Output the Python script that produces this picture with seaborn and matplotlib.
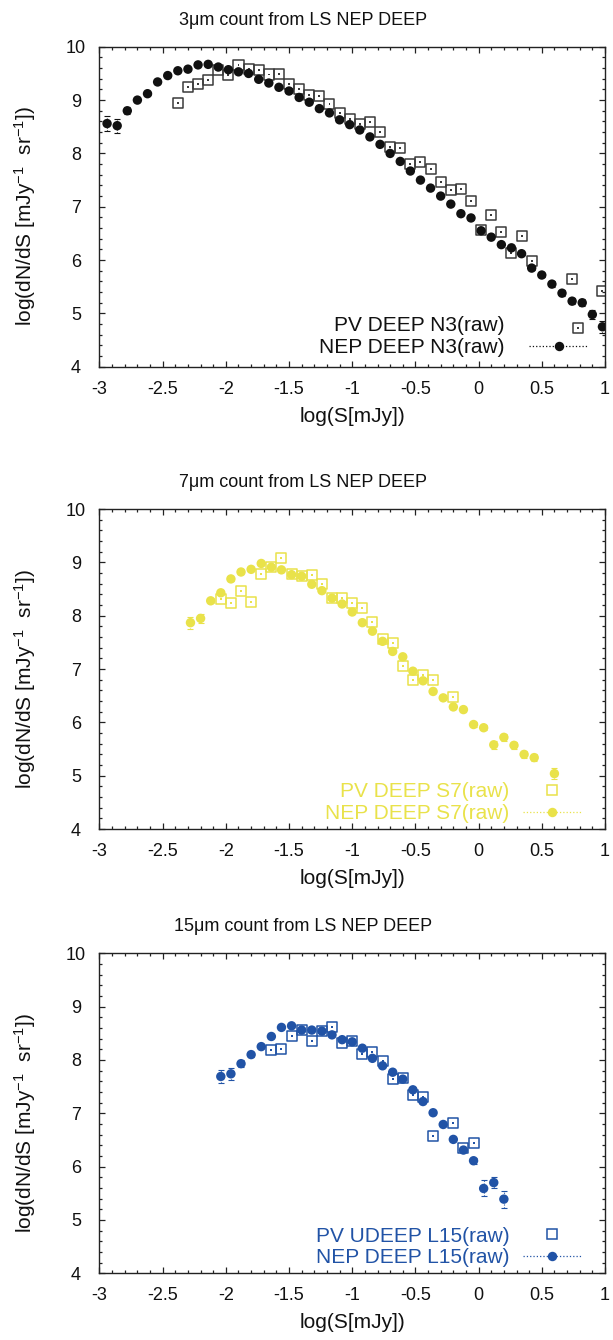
import matplotlib
matplotlib.use("Agg")
import matplotlib.pyplot as plt
from matplotlib.lines import Line2D
from matplotlib.ticker import MultipleLocator, FuncFormatter
import seaborn as sns

sns.set_theme(style="ticks")
plt.rcParams['font.family'] = ['Liberation Sans', 'DejaVu Sans']
plt.rcParams['mathtext.fontset'] = 'custom'
plt.rcParams['mathtext.rm'] = 'Liberation Sans'
plt.rcParams['mathtext.it'] = 'Liberation Sans:italic'
plt.rcParams['axes.unicode_minus'] = False

# --- 3um (N3) ---
nep3_x = [-2.94, -2.86, -2.78, -2.70, -2.62, -2.54, -2.46, -2.38, -2.30, -2.22,
          -2.14, -2.06, -1.98, -1.90, -1.82, -1.74, -1.66, -1.58, -1.50, -1.42,
          -1.34, -1.26, -1.18, -1.10, -1.02, -0.94, -0.86, -0.78, -0.70, -0.62,
          -0.54, -0.46, -0.38, -0.30, -0.22, -0.14, -0.06, 0.02, 0.10, 0.18,
          0.26, 0.34, 0.42, 0.50, 0.58, 0.66, 0.74, 0.82, 0.90, 0.98]
nep3_y = [8.56, 8.52, 8.80, 9.00, 9.12, 9.34, 9.46, 9.55, 9.58, 9.66,
          9.67, 9.62, 9.57, 9.53, 9.50, 9.39, 9.32, 9.24, 9.17, 9.05,
          8.96, 8.84, 8.76, 8.63, 8.54, 8.44, 8.31, 8.17, 8.00, 7.85,
          7.67, 7.50, 7.35, 7.20, 7.05, 6.87, 6.79, 6.55, 6.43, 6.29,
          6.23, 6.12, 5.85, 5.72, 5.55, 5.38, 5.23, 5.20, 4.98, 4.75]
nep3_err = [0.14, 0.13, 0.07, 0.04, 0.03, 0.02, 0.02, 0.02, 0.02, 0.02,
            0.02, 0.02, 0.02, 0.02, 0.02, 0.02, 0.02, 0.02, 0.02, 0.02,
            0.02, 0.02, 0.02, 0.02, 0.02, 0.02, 0.02, 0.02, 0.02, 0.02,
            0.02, 0.02, 0.02, 0.02, 0.02, 0.02, 0.02, 0.03, 0.03, 0.03,
            0.03, 0.03, 0.04, 0.04, 0.05, 0.05, 0.06, 0.07, 0.09, 0.11]
pv3_x = [-2.38, -2.30, -2.22, -2.14, -2.06, -1.98, -1.90, -1.82, -1.74, -1.66,
         -1.58, -1.50, -1.42, -1.34, -1.26, -1.18, -1.10, -1.02, -0.94, -0.86,
         -0.78, -0.70, -0.62, -0.54, -0.46, -0.38, -0.30, -0.22, -0.14, -0.06,
         0.02, 0.10, 0.18, 0.26, 0.34, 0.42, 0.74, 0.79, 0.98]
pv3_y = [8.95, 9.24, 9.31, 9.37, 9.56, 9.47, 9.66, 9.59, 9.57, 9.48,
         9.49, 9.31, 9.20, 9.09, 9.08, 8.92, 8.76, 8.65, 8.56, 8.59,
         8.41, 8.12, 8.11, 7.81, 7.84, 7.71, 7.47, 7.31, 7.34, 7.11,
         6.56, 6.84, 6.52, 6.14, 6.45, 5.99, 5.65, 4.72, 5.42]

# --- 7um (S7) ---
nep7_x = [-2.28, -2.20, -2.12, -2.04, -1.96, -1.88, -1.80, -1.72, -1.64, -1.56,
          -1.48, -1.40, -1.32, -1.24, -1.16, -1.08, -1.00, -0.92, -0.84, -0.76,
          -0.68, -0.60, -0.52, -0.44, -0.36, -0.28, -0.20, -0.12, -0.04, 0.04,
          0.12, 0.20, 0.28, 0.36, 0.44, 0.60]
nep7_y = [7.87, 7.95, 8.28, 8.43, 8.69, 8.82, 8.87, 8.98, 8.91, 8.86,
          8.77, 8.74, 8.59, 8.47, 8.33, 8.22, 8.07, 7.87, 7.71, 7.52,
          7.33, 7.23, 6.96, 6.78, 6.58, 6.46, 6.29, 6.24, 5.96, 5.90,
          5.58, 5.72, 5.57, 5.40, 5.34, 5.04]
nep7_err = [0.11, 0.09, 0.05, 0.04, 0.03, 0.02, 0.02, 0.02, 0.02, 0.02,
            0.02, 0.02, 0.02, 0.02, 0.02, 0.02, 0.02, 0.02, 0.02, 0.02,
            0.02, 0.02, 0.03, 0.03, 0.03, 0.04, 0.04, 0.04, 0.05, 0.05,
            0.07, 0.06, 0.06, 0.07, 0.07, 0.10]
pv7_x = [-2.04, -1.96, -1.88, -1.80, -1.72, -1.64, -1.56, -1.48, -1.40, -1.32,
         -1.24, -1.16, -1.08, -1.00, -0.92, -0.84, -0.76, -0.68, -0.60, -0.52,
         -0.44, -0.36, -0.20]
pv7_y = [8.32, 8.24, 8.47, 8.26, 8.78, 8.92, 9.09, 8.79, 8.75, 8.76,
         8.59, 8.33, 8.33, 8.24, 8.14, 7.89, 7.56, 7.49, 7.05, 6.79,
         6.89, 6.80, 6.47]

# --- 15um (L15) ---
nep15_x = [-2.04, -1.96, -1.88, -1.80, -1.72, -1.64, -1.56, -1.48, -1.40, -1.32,
           -1.24, -1.16, -1.08, -1.00, -0.92, -0.84, -0.76, -0.68, -0.60, -0.52,
           -0.44, -0.36, -0.28, -0.20, -0.12, -0.04, 0.04, 0.12, 0.20]
nep15_y = [7.69, 7.74, 7.93, 8.10, 8.25, 8.44, 8.61, 8.64, 8.56, 8.56,
           8.54, 8.47, 8.38, 8.34, 8.22, 8.03, 7.89, 7.77, 7.64, 7.44,
           7.22, 7.01, 6.79, 6.51, 6.31, 6.11, 5.59, 5.70, 5.39]
nep15_err = [0.13, 0.11, 0.07, 0.05, 0.03, 0.02, 0.02, 0.02, 0.02, 0.02,
             0.02, 0.02, 0.02, 0.02, 0.02, 0.02, 0.02, 0.02, 0.02, 0.02,
             0.02, 0.02, 0.03, 0.03, 0.04, 0.06, 0.15, 0.10, 0.16]
pv15_x = [-1.64, -1.56, -1.48, -1.40, -1.32, -1.24, -1.16, -1.08, -1.00, -0.92,
          -0.84, -0.76, -0.68, -0.60, -0.52, -0.44, -0.36, -0.20, -0.12, -0.04]
pv15_y = [8.19, 8.21, 8.44, 8.56, 8.35, 8.55, 8.62, 8.32, 8.36, 8.11,
          8.14, 7.98, 7.64, 7.66, 7.34, 7.31, 6.58, 6.81, 6.34, 6.44]

titles = ['3μm count from LS NEP DEEP', '7μm count from LS NEP DEEP',
          '15μm count from LS NEP DEEP']
pv_labels = ['PV DEEP N3(raw)', 'PV DEEP S7(raw)', 'PV UDEEP L15(raw)']
nep_labels = ['NEP DEEP N3(raw)', 'NEP DEEP S7(raw)', 'NEP DEEP L15(raw)']
colors = ['#111111', '#e9e24a', '#2153a6']
square_colors = ['#3a3a3a', '#e9e24a', '#2153a6']
text_colors = ['#111111', '#e9e24a', '#2153a6']


def draw_panel(ax, nep_x, nep_y, nep_err, pv_x, pv_y, i, pv_marker, anchor, textpad):
    c = colors[i]
    sc = square_colors[i]
    # PV squares (open) with a tiny dot in the middle
    sns.scatterplot(x=pv_x, y=pv_y, ax=ax, marker='s', s=52, color=sc,
                    facecolor='none', edgecolor=sc, linewidth=1.1, zorder=2)
    sns.scatterplot(x=pv_x, y=pv_y, ax=ax, marker='s', s=2, color=sc,
                    edgecolor='none', linewidth=0, zorder=2)
    # NEP error bars (dotted) + filled circles
    eb = ax.errorbar(nep_x, nep_y, yerr=nep_err, fmt='none', ecolor=c,
                     elinewidth=0.8, capsize=2, capthick=0.8, zorder=2.5)
    eb[2][0].set_linestyle(':')
    sns.scatterplot(x=nep_x, y=nep_y, ax=ax, marker='o', s=46, color=c,
                    edgecolor='none', linewidth=0, zorder=3)

    ax.set_xlim(-3, 1)
    ax.set_ylim(4, 10)
    ax.xaxis.set_major_locator(MultipleLocator(0.5))
    ax.xaxis.set_minor_locator(MultipleLocator(0.1))
    ax.yaxis.set_major_locator(MultipleLocator(1))
    ax.yaxis.set_minor_locator(MultipleLocator(0.2))
    ax.xaxis.set_major_formatter(FuncFormatter(lambda v, p: '%g' % v))
    ax.yaxis.set_major_formatter(FuncFormatter(lambda v, p: '%g' % v))
    ax.tick_params(which='both', direction='in', top=True, right=True,
                   color='#222222', width=0.9)
    ax.tick_params(which='major', length=4.5, labelsize=13, labelcolor='#111111')
    ax.tick_params(which='minor', length=2.2)
    ax.tick_params(axis='y', which='major', pad=17)
    ax.tick_params(axis='x', which='major', pad=10)
    for lab in ax.get_yticklabels():
        lab.set_horizontalalignment('center')
    for sp in ax.spines.values():
        sp.set_color('#222222')
        sp.set_linewidth(1.0)

    # title is centred on the page, not on the plot box
    ax.set_title(titles[i], fontsize=13, pad=16, color='#111111')
    ax.title.set_x(0.4026)
    ax.set_xlabel('log(S[mJy])', fontsize=15, color='#111111')
    ax.set_ylabel(r'log(dN/dS [mJy$^{-1}$  sr$^{-1}$])', fontsize=15, color='#111111')
    ax.xaxis.set_label_coords(0.5, -0.155)
    ax.xaxis.label.set_verticalalignment('center')
    ax.yaxis.set_label_coords(-0.147, 0.47)
    ax.yaxis.label.set_verticalalignment('center')

    if pv_marker:
        h_pv = Line2D([], [], linestyle='none', marker='s', markersize=7.2,
                      markerfacecolor='none', markeredgecolor=sc, markeredgewidth=1.1)
    else:
        h_pv = Line2D([], [], linestyle='none', marker='none')
    h_nep = Line2D([], [], linestyle=':', linewidth=0.9, color=c, marker='o',
                   markersize=6.8, markeredgewidth=0)
    ax.legend([h_pv, h_nep], [pv_labels[i], nep_labels[i]], loc='lower right',
              bbox_to_anchor=anchor, frameon=False, markerfirst=False,
              fontsize=15, numpoints=1, handlelength=2.8, handletextpad=textpad,
              borderpad=0, borderaxespad=0, labelspacing=0.12,
              labelcolor=text_colors[i])
    ax.set_facecolor('white')


fig = plt.figure(figsize=(6.13, 13.40), dpi=100)
left, width, height = 0.1623, 0.8246, 0.2388
ax1 = fig.add_axes([left, 0.7263, width, height])
ax2 = fig.add_axes([left, 0.3813, width, height])
ax3 = fig.add_axes([left, 0.0498, width, height])

draw_panel(ax1, nep3_x, nep3_y, nep3_err, pv3_x, pv3_y, 0, False, (0.966, 0.031), 1.2)
draw_panel(ax2, nep7_x, nep7_y, nep7_err, pv7_x, pv7_y, 1, True, (0.9525, 0.019), 0.63)
draw_panel(ax3, nep15_x, nep15_y, nep15_err, pv15_x, pv15_y, 2, True, (0.9525, 0.019), 0.63)

fig.savefig('out.png', dpi=100, facecolor='white')
